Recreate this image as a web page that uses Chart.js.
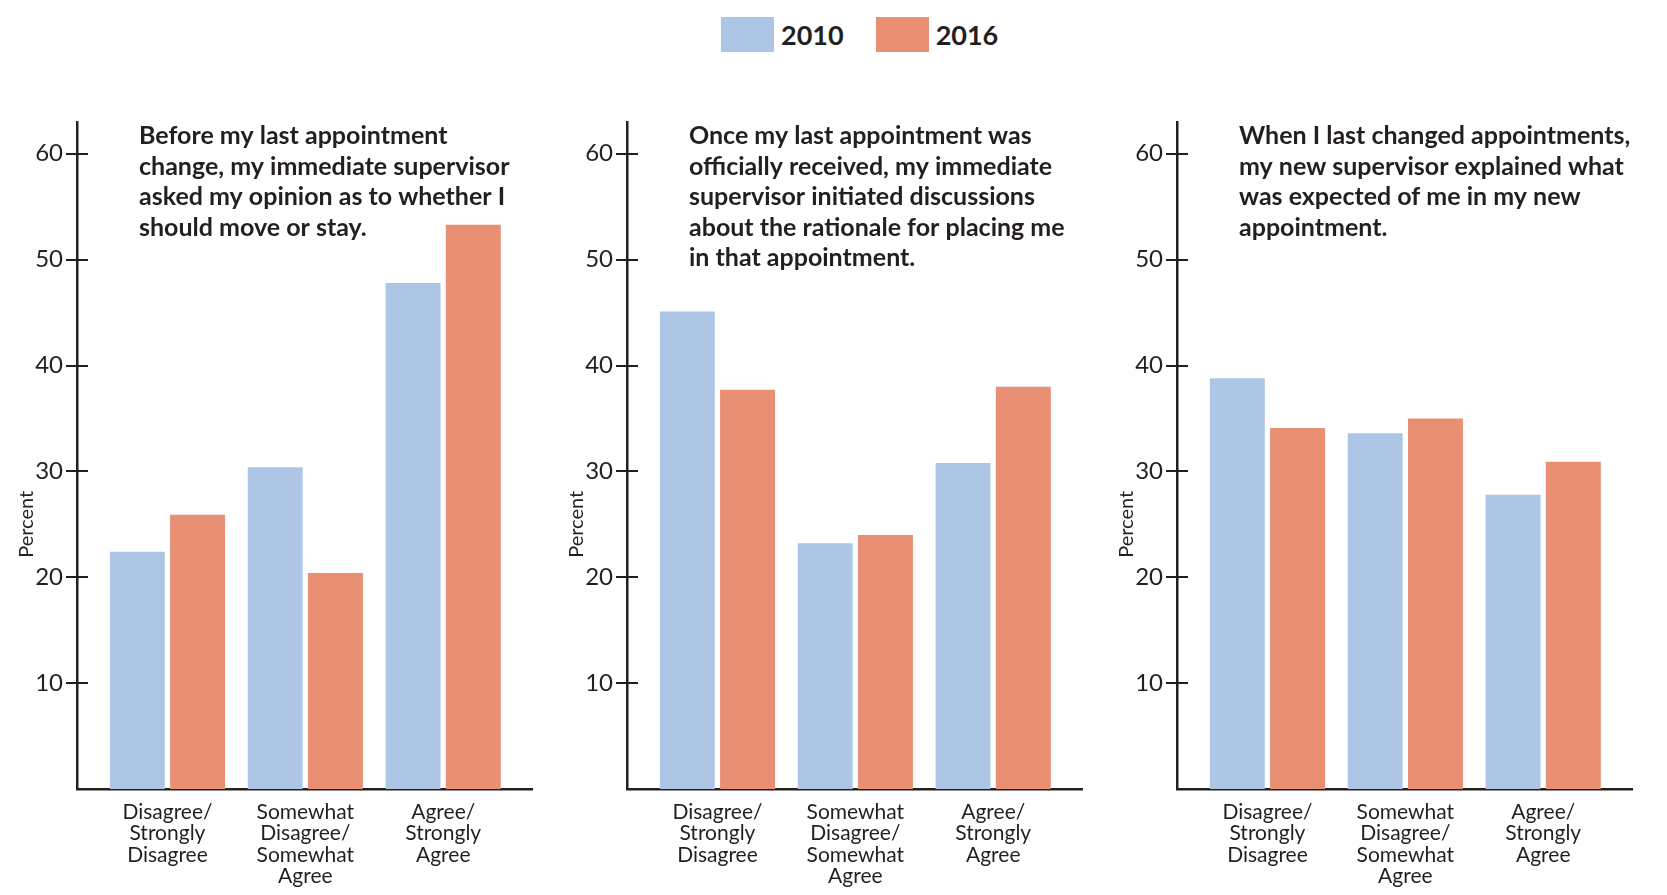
<!DOCTYPE html>
<html lang="en">
<head>
<meta charset="UTF-8">
<title>Appointment change survey, 2010 vs 2016</title>
<script src="https://cdn.jsdelivr.net/npm/chart.js"></script>
<style>
    body {
        margin: 0;
        background: #fff;
        font-family: 'Lato', sans-serif;
        color: #231f20;
    }
    .legend {
        position: absolute;
        left: 721px;
        top: 17px;
        display: flex;
        align-items: center;
        font-weight: bold;
        font-size: 27px;
    }
    .legend .box {
        width: 53px;
        height: 35px;
        margin-right: 7px;
    }
    .legend .item {
        display: flex;
        align-items: center;
        margin-right: 32px;
    }
    .panel {
        position: absolute;
        top: 0;
        width: 545px;
        height: 895px;
    }
</style>
</head>
<body>
<div class="legend" id="legend"></div>
<div class="panel" style="left:0px"><canvas id="panel1"></canvas></div>
<div class="panel" style="left:550px"><canvas id="panel2"></canvas></div>
<div class="panel" style="left:1100px"><canvas id="panel3"></canvas></div>

<script>
    const years = ['2010', '2016'];
    const yearColors = ['#adc6e6', '#e99074'];
    const xLabels = [
        ['Disagree/', 'Strongly', 'Disagree'],
        ['Somewhat', 'Disagree/', 'Somewhat', 'Agree'],
        ['Agree/', 'Strongly', 'Agree']
    ];
    const yTicks = [10, 20, 30, 40, 50, 60];

    const p1Title = ['Before my last appointment', 'change, my immediate supervisor',
        'asked my opinion as to whether I', 'should move or stay.'];
    const p1Values2010 = [22.4, 30.4, 47.8];
    const p1Values2016 = [25.9, 20.4, 53.3];

    const p2Title = ['Once my last appointment was', 'officially received, my immediate',
        'supervisor initiated discussions', 'about the rationale for placing me', 'in that appointment.'];
    const p2Values2010 = [45.1, 23.2, 30.8];
    const p2Values2016 = [37.7, 24.0, 38.0];

    const p3Title = ['When I last changed appointments,', 'my new supervisor explained what',
        'was expected of me in my new', 'appointment.'];
    const p3Values2010 = [38.8, 33.6, 27.8];
    const p3Values2016 = [34.1, 35.0, 30.9];

    const ink = '#231f20';

    // html legend
    const legendEl = document.getElementById('legend');
    years.forEach((y, i) => {
        const item = document.createElement('div');
        item.className = 'item';
        item.innerHTML = '<div class="box" style="background:' + yearColors[i] + '"></div><span>' + y + '</span>';
        legendEl.appendChild(item);
    });

    // panel question text + "Percent" + inner half of the y ticks
    const panelExtras = {
        id: 'panelExtras',
        afterDraw(chart, args, opts) {
            const ctx = chart.ctx;
            const area = chart.chartArea;
            const y = chart.scales.y;
            ctx.save();
            ctx.strokeStyle = ink;
            ctx.lineWidth = 2;
            y.ticks.forEach(t => {
                const py = Math.round(y.getPixelForValue(t.value));
                ctx.beginPath();
                ctx.moveTo(area.left, py);
                ctx.lineTo(area.left + 11, py);
                ctx.stroke();
            });
            ctx.fillStyle = ink;
            ctx.font = 'bold 25px Lato';
            ctx.textBaseline = 'alphabetic';
            opts.lines.forEach((line, i) => {
                ctx.fillText(line, area.left + 62, area.top + 22 + i * 30.6);
            });
            ctx.font = '20px Lato';
            ctx.translate(27, y.getPixelForValue(25));
            ctx.rotate(-Math.PI / 2);
            ctx.textAlign = 'center';
            ctx.textBaseline = 'middle';
            ctx.fillText('Percent', 0, 0);
            ctx.restore();
        }
    };

    const toPoints = vals => vals.map((v, i) => ({ x: i, y: v }));

    function makePanel(id, title, vals2010, vals2016) {
        return new Chart(document.getElementById(id), {
            type: 'bar',
            data: {
                datasets: [
                    { label: years[0], data: toPoints(vals2010), backgroundColor: yearColors[0] },
                    { label: years[1], data: toPoints(vals2016), backgroundColor: yearColors[1] }
                ]
            },
            options: {
                responsive: true,
                maintainAspectRatio: false,
                animation: false,
                categoryPercentage: 0.874,
                barPercentage: 0.912,
                layout: { padding: { top: 122, right: 13, left: 0, bottom: 0 } },
                plugins: {
                    legend: { display: false },
                    tooltip: { enabled: false },
                    panelExtras: { lines: title }
                },
                scales: {
                    x: {
                        type: 'linear',
                        offset: false,
                        min: -0.656,
                        max: 2.644,
                        afterBuildTicks: s => { s.ticks = xLabels.map((l, i) => ({ value: i })); },
                        afterFit: s => { s.height = 106; },
                        border: { color: ink, width: 2.5 },
                        grid: { drawOnChartArea: false, drawTicks: false },
                        ticks: {
                            autoSkip: false,
                            maxRotation: 0,
                            padding: 12,
                            color: ink,
                            font: { family: 'Lato', size: 21, lineHeight: 1.03 },
                            callback: v => xLabels[v]
                        }
                    },
                    y: {
                        min: 0,
                        max: 63,
                        afterBuildTicks: s => { s.ticks = yTicks.map(v => ({ value: v })); },
                        afterFit: s => { s.width = 77; },
                        border: { color: ink, width: 2.5 },
                        grid: { drawOnChartArea: false, tickLength: 11, color: ink, lineWidth: 2 },
                        ticks: {
                            padding: 3,
                            color: ink,
                            font: { family: 'Lato', size: 24 }
                        }
                    }
                }
            },
            plugins: [panelExtras]
        });
    }

    makePanel('panel1', p1Title, p1Values2010, p1Values2016);
    makePanel('panel2', p2Title, p2Values2010, p2Values2016);
    makePanel('panel3', p3Title, p3Values2010, p3Values2016);
</script>
</body>
</html>
